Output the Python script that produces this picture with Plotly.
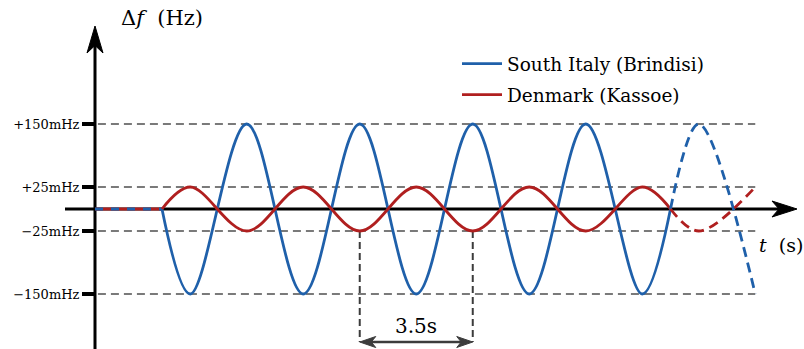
import plotly.graph_objects as go

# ---------------- data ----------------
# South Italy (Brindisi): start of oscillation, then the extrema, then last zero crossing
t_italy = [2.075, 2.95, 4.70, 6.45, 8.20, 9.95, 11.70, 13.45, 15.20, 16.95, 17.825]
italy_mhz = [0, -150, 150, -150, 150, -150, 150, -150, 150, -150, 0]

# Denmark (Kassoe): same instants, opposite phase
t_denmark = [2.075, 2.95, 4.70, 6.45, 8.20, 9.95, 11.70, 13.45, 15.20, 16.95, 17.825]
denmark_mhz = [0, 25, -25, 25, -25, 25, -25, 25, -25, 25, 0]

# dashed continuation
t_cont = [17.825, 18.70, 20.45]
italy_cont_mhz = [0, 150, -150]
denmark_cont_mhz = [0, -25, 25]

# flat part before the oscillation
t_flat = [0.0, 2.075]
flat_mhz = [0, 0]

# schematic (non-linear) vertical scale: drawing height of each mHz level
level_pos = {150: 85, 25: 22, 0: 0, -25: -22, -150: -85}
tick_mhz = [150, 25, -25, -150]
tick_text = ["+150mHz", "+25mHz", "\u221225mHz", "\u2212150mHz"]

period_from, period_to = 8.20, 11.70   # 3.5 s bracket
period_label = "3.5s"

BLUE = "#1f60aa"
RED = "#b01f1f"
GRAY = "#7a7a7a"
DARK = "#3c3c3c"
FONT = "DejaVu Serif"


def lv(vals):
    return [level_pos[v] for v in vals]


W, H = 804, 349
L = 95            # left margin (y axis position)
XMAX = 21.96      # seconds across the plot area


def px(x):
    return (x - L) / (W - L)


def py(y):
    return 1 - y / H


fig = go.Figure()

# flat segment: red solid under blue dashed -> alternating dashes
fig.add_trace(go.Scatter(x=t_flat, y=lv(flat_mhz), mode="lines",
                         line=dict(color=RED, width=3), showlegend=False))
fig.add_trace(go.Scatter(x=t_flat, y=lv(flat_mhz), mode="lines",
                         line=dict(color=BLUE, width=3, dash="8px,8px"), showlegend=False))

fig.add_trace(go.Scatter(x=t_italy, y=lv(italy_mhz), mode="lines", name="South Italy (Brindisi)",
                         line=dict(color=BLUE, width=2.8, shape="spline", smoothing=1),
                         legendgroup="a"))
fig.add_trace(go.Scatter(x=t_denmark, y=lv(denmark_mhz), mode="lines", name="Denmark (Kassoe)",
                         line=dict(color=RED, width=2.8, shape="spline", smoothing=1),
                         legendgroup="b"))
fig.add_trace(go.Scatter(x=t_cont, y=lv(italy_cont_mhz), mode="lines", showlegend=False,
                         line=dict(color=BLUE, width=2.8, shape="spline", smoothing=1,
                                   dash="10px,6px")))
fig.add_trace(go.Scatter(x=t_cont, y=lv(denmark_cont_mhz), mode="lines", showlegend=False,
                         line=dict(color=RED, width=2.8, shape="spline", smoothing=1,
                                   dash="10px,6px")))

shapes = []
# dashed reference levels
for m in tick_mhz:
    shapes.append(dict(type="line", xref="x", yref="y", x0=0.09, x1=20.45,
                       y0=level_pos[m], y1=level_pos[m],
                       line=dict(color=GRAY, width=2, dash="8px,5px"), layer="below"))

# period bracket verticals
for tv in (period_from, period_to):
    shapes.append(dict(type="line", xref="x", yref="y", x0=tv, x1=tv,
                       y0=level_pos[-25], y1=-133,
                       line=dict(color=DARK, width=2, dash="7px,4px"), layer="below"))

# axes (x axis at zero level, y axis at left edge)
shapes.append(dict(type="line", xref="paper", yref="paper", x0=px(65), x1=px(780),
                   y0=py(209), y1=py(209), line=dict(color="black", width=3), layer="below"))
shapes.append(dict(type="line", xref="paper", yref="paper", x0=px(95), x1=px(95),
                   y0=py(349), y1=py(40), line=dict(color="black", width=3), layer="below"))


def stealth_h(xt, y, length, half, direction=1):
    xb = xt - direction * length
    xn = xt - direction * length * 0.72
    return (f"M{px(xt)},{py(y)} L{px(xb)},{py(y - half)} L{px(xn)},{py(y)} "
            f"L{px(xb)},{py(y + half)} Z")


def stealth_v(x, yt, length, half):
    yb = yt + length
    yn = yt + length * 0.72
    return (f"M{px(x)},{py(yt)} L{px(x - half)},{py(yb)} L{px(x)},{py(yn)} "
            f"L{px(x + half)},{py(yb)} Z")


shapes.append(dict(type="path", xref="paper", yref="paper", path=stealth_h(797, 209, 25, 8),
                   fillcolor="black", line=dict(color="black", width=1)))
shapes.append(dict(type="path", xref="paper", yref="paper", path=stealth_v(95, 26, 27, 8),
                   fillcolor="black", line=dict(color="black", width=1)))

# double arrow of the period bracket
x_a = L + period_from * (W - L) / XMAX
x_b = L + period_to * (W - L) / XMAX
shapes.append(dict(type="line", xref="paper", yref="paper", x0=px(x_a + 8), x1=px(x_b - 8),
                   y0=py(342), y1=py(342), line=dict(color=DARK, width=2.5)))
shapes.append(dict(type="path", xref="paper", yref="paper", path=stealth_h(x_a, 342, 16, 5.5, -1),
                   fillcolor=DARK, line=dict(color=DARK, width=1)))
shapes.append(dict(type="path", xref="paper", yref="paper", path=stealth_h(x_b, 342, 16, 5.5, 1),
                   fillcolor=DARK, line=dict(color=DARK, width=1)))

annotations = [
    dict(text="\u0394<i>f</i>  (Hz)", xref="paper", yref="paper", x=px(162), y=py(18),
         xanchor="center", yanchor="middle", showarrow=False,
         font=dict(family=FONT, size=21, color="black")),
    dict(text="<i>t</i>  (s)", xref="paper", yref="paper", x=px(781), y=py(245),
         xanchor="center", yanchor="middle", showarrow=False,
         font=dict(family=FONT, size=19, color="black")),
    dict(text=period_label, xref="paper", yref="paper", x=px((x_a + x_b) / 2), y=py(326),
         xanchor="center", yanchor="middle", showarrow=False,
         font=dict(family=FONT, size=20, color="black")),
]

fig.update_layout(
    width=W, height=H,
    margin=dict(l=L, r=0, t=0, b=0),
    paper_bgcolor="white", plot_bgcolor="white",
    shapes=shapes, annotations=annotations,
    xaxis=dict(range=[0, XMAX], visible=False, fixedrange=True),
    yaxis=dict(range=[-140, 209], showgrid=False, zeroline=False, showline=False,
               tickvals=[level_pos[m] for m in tick_mhz], ticktext=tick_text,
               ticks="outside", ticklen=12, tickwidth=4, tickcolor="black",
               tickfont=dict(family=FONT, size=13, color="black"), fixedrange=True),
    legend=dict(x=px(457), y=py(45), xanchor="left", yanchor="top",
                bgcolor="rgba(0,0,0,0)", font=dict(family=FONT, size=18.5, color="black"),
                tracegroupgap=4, itemwidth=40),
    showlegend=True,
)

fig.write_html("out.html")
